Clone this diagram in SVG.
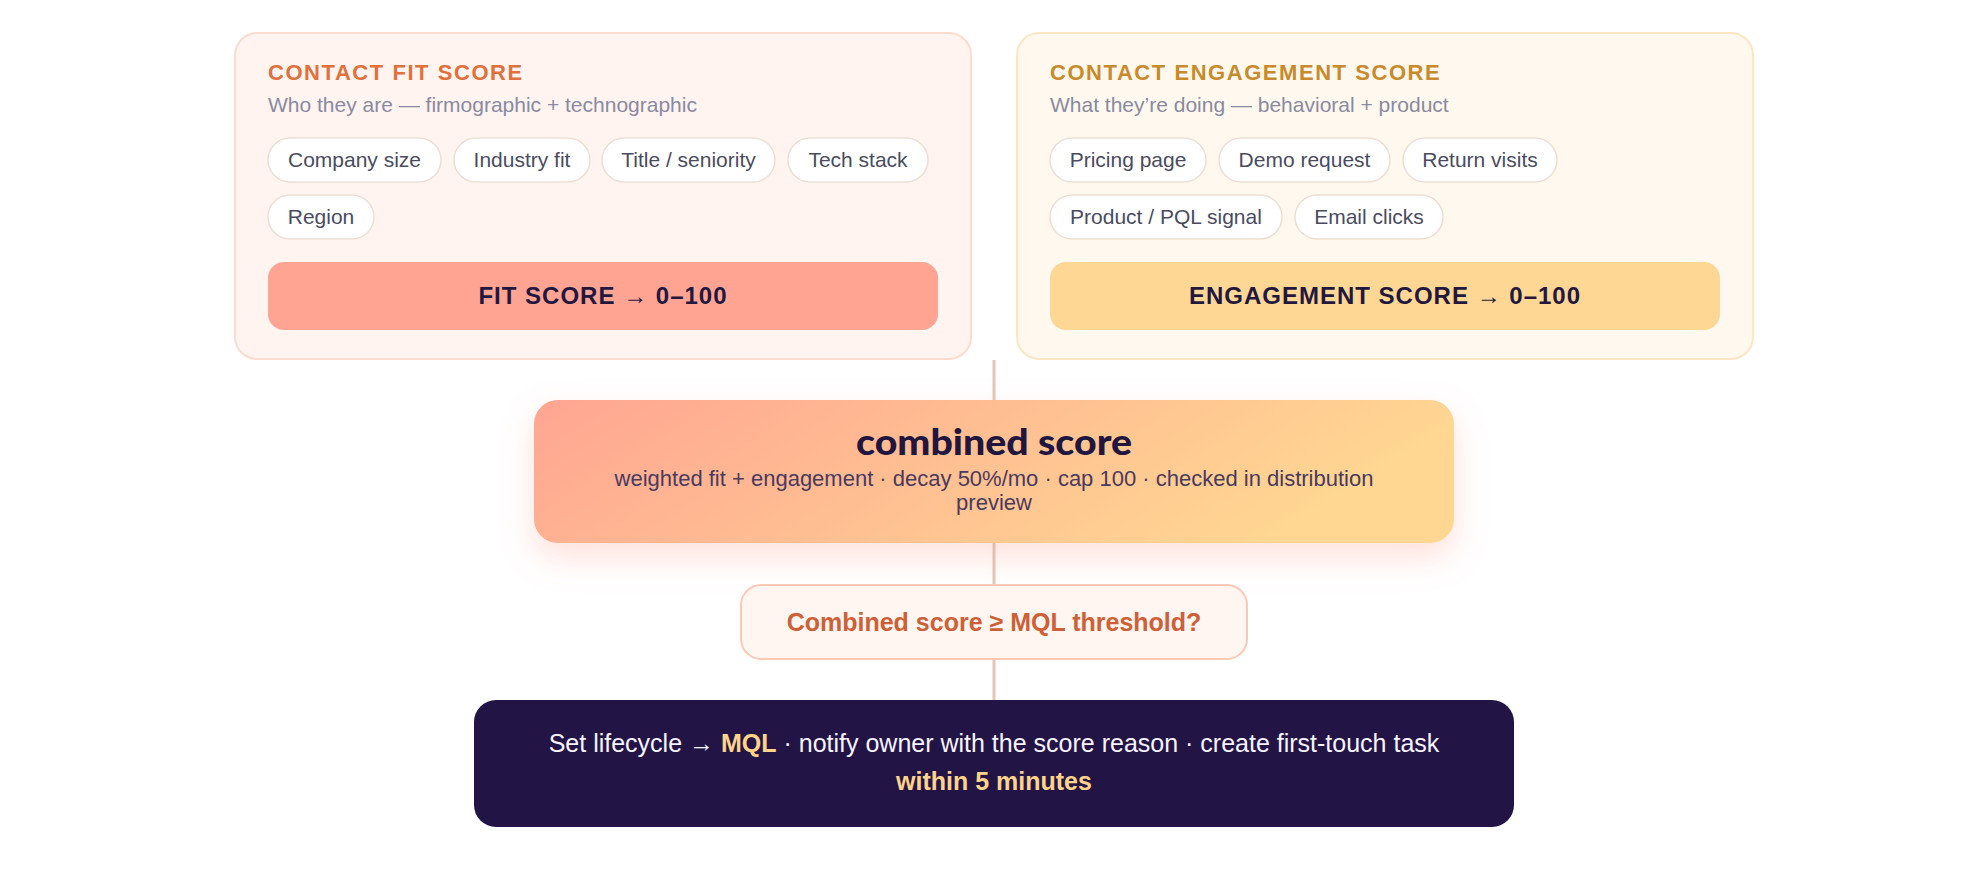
<svg xmlns="http://www.w3.org/2000/svg" width="1988" height="880" viewBox="0 0 1988 880">
<defs>
<linearGradient id="gComb" x1="0" y1="0" x2="1" y2="0.25">
<stop offset="0" stop-color="#ffa592"/>
<stop offset="1" stop-color="#ffd792"/>
</linearGradient>
<filter id="shadow" x="-10%" y="-30%" width="120%" height="190%">
<feDropShadow dx="0" dy="14" stdDeviation="16" flood-color="#ff8a70" flood-opacity="0.26"/>
</filter>
</defs>
<style>
text{font-family:"Liberation Sans",Arial,sans-serif}
.card-fit{fill:#fff4f0;stroke:#fddccf;stroke-width:2}
.card-eng{fill:#fff8ee;stroke:#fde6c3;stroke-width:2}
.ttl{font-size:22px;font-weight:700;letter-spacing:1.55px}
.sub{font-size:21px;fill:#8a8aa0}
.chip rect{fill:#ffffff;stroke:#eedfd5;stroke-width:1.5}
.chip text{font-size:21px;fill:#4a4c5e;text-anchor:middle}
.bar{font-size:24px;font-weight:700;letter-spacing:1px;fill:#22173f;text-anchor:middle}
.conn{stroke:#e2c6b8;stroke-width:3;fill:none}
</style>
<rect width="1988" height="880" fill="#ffffff"/>

<g id="connectors">
<line class="conn" x1="994" y1="360" x2="994" y2="400"/>
<line class="conn" x1="994" y1="543" x2="994" y2="585"/>
<line class="conn" x1="994" y1="659" x2="994" y2="700"/>
</g>

<g id="fit-card">
<rect class="card-fit" x="235" y="33" width="736" height="326" rx="22"/>
<text class="ttl" x="268" y="80" fill="#e0703c">CONTACT FIT SCORE</text>
<text class="sub" x="268" y="112">Who they are — firmographic + technographic</text>
<g class="chip"><rect x="268" y="138" width="173" height="44" rx="22"/><text x="354.5" y="167">Company size</text></g>
<g class="chip"><rect x="454" y="138" width="136" height="44" rx="22"/><text x="522" y="167">Industry fit</text></g>
<g class="chip"><rect x="602" y="138" width="173" height="44" rx="22"/><text x="688.5" y="167">Title / seniority</text></g>
<g class="chip"><rect x="788" y="138" width="140" height="44" rx="22"/><text x="858" y="167">Tech stack</text></g>
<g class="chip"><rect x="268" y="195" width="106" height="44" rx="22"/><text x="321" y="224">Region</text></g>
<rect x="268" y="262" width="670" height="68" rx="16" fill="#ffa492"/>
<text class="bar" x="603" y="304">FIT SCORE → 0–100</text>
</g>

<g id="engagement-card">
<rect class="card-eng" x="1017" y="33" width="736" height="326" rx="22"/>
<text class="ttl" x="1050" y="80" fill="#c98a2b">CONTACT ENGAGEMENT SCORE</text>
<text class="sub" x="1050" y="112">What they’re doing — behavioral + product</text>
<g class="chip"><rect x="1050" y="138" width="156" height="44" rx="22"/><text x="1128" y="167">Pricing page</text></g>
<g class="chip"><rect x="1219" y="138" width="171" height="44" rx="22"/><text x="1304.5" y="167">Demo request</text></g>
<g class="chip"><rect x="1403" y="138" width="154" height="44" rx="22"/><text x="1480" y="167">Return visits</text></g>
<g class="chip"><rect x="1050" y="195" width="232" height="44" rx="22"/><text x="1166" y="224">Product / PQL signal</text></g>
<g class="chip"><rect x="1295" y="195" width="148" height="44" rx="22"/><text x="1369" y="224">Email clicks</text></g>
<rect x="1050" y="262" width="670" height="68" rx="16" fill="#ffd794"/>
<text class="bar" x="1385" y="304">ENGAGEMENT SCORE → 0–100</text>
</g>

<g id="combined-score">
<rect x="534" y="400" width="920" height="143" rx="24" fill="url(#gComb)" filter="url(#shadow)"/>
<text x="994" y="455" text-anchor="middle" textLength="276" lengthAdjust="spacingAndGlyphs" style="font-family:Lato,Inter,'Liberation Sans',sans-serif;font-size:36px;font-weight:900;fill:#21163f">combined score</text>
<text x="994" y="486" text-anchor="middle" style="font-size:22px;fill:#4a3a5e">weighted fit + engagement · decay 50%/mo · cap 100 · checked in distribution</text>
<text x="994" y="510" text-anchor="middle" style="font-size:22px;fill:#4a3a5e">preview</text>
</g>

<g id="mql-decision">
<rect x="741" y="585" width="506" height="74" rx="20" fill="#fff5f1" stroke="#fdc9b5" stroke-width="2"/>
<text x="994" y="631" text-anchor="middle" style="font-size:25px;font-weight:700;fill:#cf5f36">Combined score ≥ MQL threshold?</text>
</g>

<g id="mql-action">
<rect x="474" y="700" width="1040" height="127" rx="22" fill="#221545"/>
<text x="994" y="752" text-anchor="middle" style="font-size:25px;fill:#f7f3ff">Set lifecycle → <tspan style="font-weight:700;fill:#ffd38a">MQL</tspan> · notify owner with the score reason · create first-touch task</text>
<text x="994" y="790" text-anchor="middle" style="font-size:25px;font-weight:700;fill:#ffd38a">within 5 minutes</text>
</g>
</svg>
